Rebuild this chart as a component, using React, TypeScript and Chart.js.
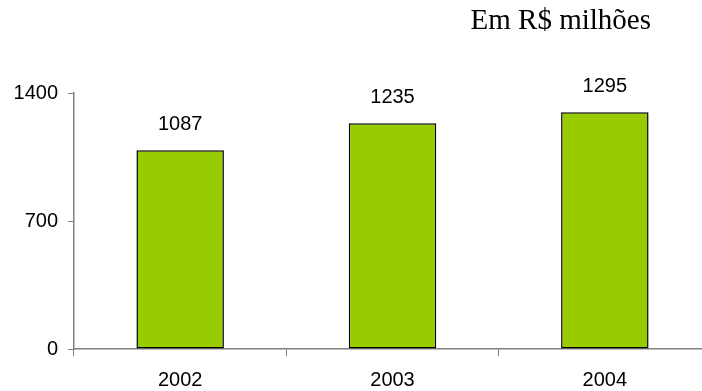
import React, { useEffect, useRef } from "react";
import { Chart, registerables } from "chart.js";

Chart.register(...registerables);

const years = ["2002", "2003", "2004"];
const revenue = [1087, 1235, 1295];
const yTicks = [0, 700, 1400];
const unitLabel = "Em R$ milhões";

const AXIS_GREY = "#808080";
const BAR_GREEN = "#99CC00";
const SANS = "'Liberation Sans', Arial, Helvetica, sans-serif";
const SERIF = "'Liberation Serif', 'Times New Roman', serif";

// Writes each bar's value centred above it.
const valueLabels = {
  id: "valueLabels",
  afterDatasetsDraw(chart: any) {
    const { ctx } = chart;
    const meta = chart.getDatasetMeta(0);
    ctx.save();
    ctx.font = `20px ${SANS}`;
    ctx.fillStyle = "#000";
    ctx.textAlign = "center";
    ctx.textBaseline = "alphabetic";
    meta.data.forEach((bar: any, i: number) => {
      ctx.fillText(String(revenue[i]), bar.x, bar.y - 20);
    });
    ctx.restore();
  },
};

// Unit caption in the top-right corner.
const unitCaption = {
  id: "unitCaption",
  afterDraw(chart: any) {
    const { ctx } = chart;
    ctx.save();
    ctx.font = `29px ${SERIF}`;
    ctx.fillStyle = "#000";
    ctx.textAlign = "right";
    ctx.textBaseline = "alphabetic";
    ctx.fillText(unitLabel, 651, 29);
    ctx.restore();
  },
};

export default function App() {
  const canvasRef = useRef<HTMLCanvasElement | null>(null);

  useEffect(() => {
    if (!canvasRef.current) return;
    const chart = new Chart(canvasRef.current, {
      type: "bar",
      data: {
        labels: years,
        datasets: [
          {
            data: revenue,
            backgroundColor: BAR_GREEN,
            borderColor: "#000",
            borderWidth: 1.5,
            borderSkipped: false,
            categoryPercentage: 1,
            barPercentage: 0.412,
          },
        ],
      },
      options: {
        animation: false,
        responsive: false,
        events: [],
        layout: { padding: { top: 93, right: 0, left: 0, bottom: 0 } },
        plugins: {
          legend: { display: false },
          tooltip: { enabled: false },
          title: { display: false },
        },
        scales: {
          x: {
            offset: true,
            border: { display: true, color: AXIS_GREY, width: 1.5 },
            grid: {
              offset: true,
              drawOnChartArea: false,
              drawTicks: true,
              tickLength: 7,
              color: AXIS_GREY,
            },
            ticks: {
              color: "#000",
              font: { family: SANS, size: 20 },
              padding: 12,
              maxRotation: 0,
            },
            afterFit(scale: any) {
              scale.height = 42;
            },
          },
          y: {
            min: 0,
            max: 1400,
            border: { display: true, color: AXIS_GREY, width: 1.5 },
            grid: {
              drawOnChartArea: false,
              drawTicks: true,
              tickLength: 6,
              color: AXIS_GREY,
            },
            afterBuildTicks(scale: any) {
              scale.ticks = yTicks.map((v) => ({ value: v }));
            },
            ticks: {
              color: "#000",
              font: { family: SANS, size: 20 },
              padding: 10,
              callback: (v: any) => String(v),
            },
            afterFit(scale: any) {
              scale.width = 74;
            },
          },
        },
      },
      plugins: [valueLabels, unitCaption],
    });
    return () => chart.destroy();
  }, []);

  return (
    <div
      style={{
        position: "fixed",
        left: 0,
        top: 0,
        width: 702,
        height: 391,
        overflow: "hidden",
        background: "#fff",
      }}
    >
      <canvas ref={canvasRef} width={711} height={391} style={{ display: "block" }} />
    </div>
  );
}
